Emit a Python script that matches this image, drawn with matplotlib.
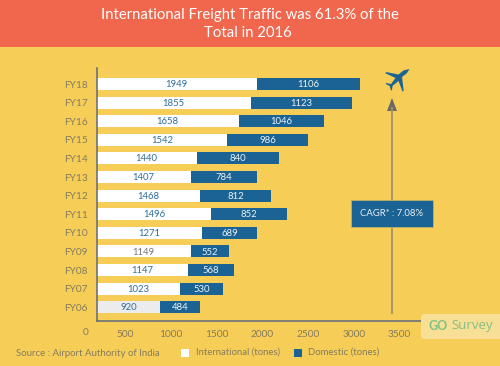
"""International vs domestic freight traffic infographic, FY06 to FY18."""
import matplotlib

matplotlib.use("Agg")

import matplotlib.patches as mpatches
import matplotlib.pyplot as plt

years = ["FY06", "FY07", "FY08", "FY09", "FY10", "FY11", "FY12",
         "FY13", "FY14", "FY15", "FY16", "FY17", "FY18"]
# printed labels
international = [920, 1023, 1147, 1149, 1271, 1496, 1468,
                 1407, 1440, 1542, 1658, 1855, 1949]
domestic = [484, 530, 568, 552, 689, 852, 812,
            784, 840, 986, 1046, 1123, 1106]
# the drawn bars do not follow the printed numbers, so read their ends
# against the x axis separately
white_end = [881, 1096, 1184, 1213, 1337, 1439, 1315,
             1213, 1279, 1614, 1739, 1870, 1935]
blue_end = [1315, 1570, 1687, 1636, 1942, 2264, 2089,
            1935, 2183, 2497, 2672, 2978, 3066]
x_ticks = [500, 1000, 1500, 2000, 2500, 3000, 3500]

BG = "#F5CD57"
RED = "#F0674E"
BLUE = "#1B6394"
GREY = "#857c5f"
W, H = 500, 366
X_LEFT = 183  # the axis line sits here, the bars are cut off by it

plt.rcParams["font.family"] = ["Lato", "DejaVu Sans"]

fig = plt.figure(figsize=(W / 100, H / 100), dpi=100, facecolor=BG)

# ---- pixel overlay for header, arrow, box, legend ----
ov = fig.add_axes([0, 0, 1, 1], zorder=3)
ov.set_xlim(0, W)
ov.set_ylim(H, 0)
ov.axis("off")
ov.patch.set_alpha(0)

ov.add_patch(mpatches.Rectangle((0, 0), W, 47, facecolor=RED, edgecolor="none"))
ov.text(249.5, 15.5, "International Freight Traffic was 61.3% of the",
        ha="center", va="center", fontsize=10.7, color="white")
ov.text(247.5, 33, "Total in 2016", ha="center", va="center",
        fontsize=10.7, color="white")

# ---- bars ----
ax = fig.add_axes([96.5 / W, 1 - 320.7 / H, 328.5 / W, 252.7 / H], zorder=2)
ax.patch.set_alpha(0)
ax.set_xlim(X_LEFT, X_LEFT + 328.5 / 0.0914)
ypos = list(range(len(years)))
ax.set_ylim(-0.72, 12.86)
for y, yr, a, b, wend, bend in zip(ypos, years, international, domestic,
                                   white_end, blue_end):
    face = "#ECECEC" if yr == "FY06" else "white"
    ax.barh(y, wend, height=0.645, color=face, edgecolor="none")
    ax.barh(y, bend - wend, left=wend, height=0.645, color=BLUE,
            edgecolor="none")
    txt_col = "#777777" if yr == "FY09" else "#2d6c9c"
    ax.text((X_LEFT + wend) / 2, y - 0.03, str(a), ha="center", va="center",
            fontsize=6.8, color=txt_col)
    ax.text((wend + bend) / 2, y - 0.03, str(b), ha="center", va="center",
            fontsize=6.8, color="#eef3f5")
ax.set_yticks(ypos, years)
ax.set_xticks(x_ticks, [str(v) for v in x_ticks])
ax.tick_params(length=0, labelsize=7.3, labelcolor=GREY)
ax.tick_params(axis="x", pad=6.6)
ax.tick_params(axis="y", pad=6.2)
for s in ("top", "right"):
    ax.spines[s].set_visible(False)
for s in ("left", "bottom"):
    ax.spines[s].set_color("#5d6a78")
    ax.spines[s].set_linewidth(1.1)

ov.text(86, 332.5, "0", ha="center", va="center", fontsize=7.3, color=GREY)

# ---- CAGR arrow and box ----
ov.plot([392, 392], [313, 108], color="#a39468", lw=1.3)
ov.add_patch(mpatches.Polygon([[392, 98], [387, 111], [397, 111]],
                              facecolor="#6e6a62", edgecolor="none"))
ov.add_patch(mpatches.Rectangle((351, 200), 82, 27, facecolor=BLUE,
                                edgecolor="#c9b460", lw=0.5, zorder=4))
ov.text(391.5, 213.3, "CAGR* : 7.08%", ha="center", va="center",
        fontsize=6.8, color="#e8eef0", zorder=5)

# plane icon
plane = [[409.5, 69], [403.5, 70.5], [398.5, 74.5], [386, 72], [385.5, 73.3],
         [395.5, 78], [391, 84], [386, 83], [385.7, 84], [389.7, 86],
         [391, 90.5], [392, 90], [392.5, 86], [398.5, 81], [402.5, 91.5],
         [403.7, 91], [402, 77], [407, 73]]
ov.add_patch(mpatches.Polygon(plane, facecolor=BLUE, edgecolor="none"))

# ---- watermark ----
ov.add_patch(mpatches.FancyBboxPatch(
    (421, 314), 84, 25, boxstyle="round,pad=0,rounding_size=3",
    facecolor="#F8DF96", edgecolor="none"))
ov.text(438, 326, "GO", ha="center", va="center", fontsize=9,
        fontweight="bold", color="#84c084")
ov.text(472.5, 326, "Survey", ha="center", va="center", fontsize=9.5,
        color="#84c084", family="Open Sans")

# ---- source and legend ----
ov.text(15.5, 353, "Source : Airport Authority of India", ha="left",
        va="center", fontsize=6.9, color=GREY)
ov.add_patch(mpatches.Rectangle((181, 349), 7.5, 7.5, facecolor="white",
                                edgecolor="none"))
ov.text(195.5, 352.5, "International (tones)", ha="left", va="center",
        fontsize=6.8, color=GREY)
ov.add_patch(mpatches.Rectangle((294, 349), 7.5, 7.5, facecolor=BLUE,
                                edgecolor="none"))
ov.text(308.5, 352.5, "Domestic (tones)", ha="left", va="center",
        fontsize=6.9, color=GREY)

fig.savefig("out.png", dpi=100, facecolor=BG)
